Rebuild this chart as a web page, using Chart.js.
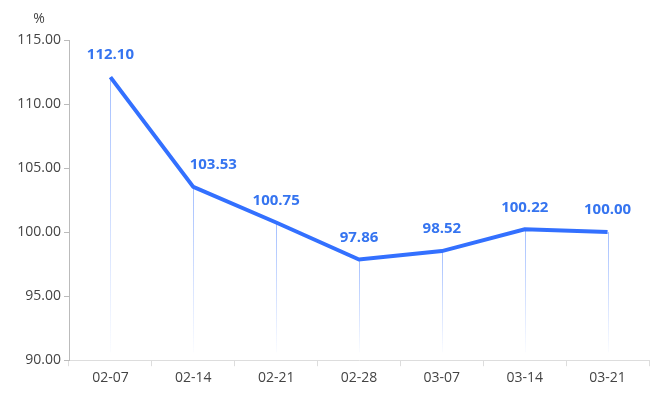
<!DOCTYPE html>
<html>
<head>
<meta charset="utf-8">
<script src="https://cdn.jsdelivr.net/npm/chart.js@4"></script>
<style>
  html, body { margin: 0; padding: 0; background: #fff; }
  #wrap { width: 666px; height: 397px; }
</style>
</head>
<body>
<div id="wrap"><canvas id="line-chart"></canvas></div>
<script>
const categories = ["02-07", "02-14", "02-21", "02-28", "03-07", "03-14", "03-21"];
const values = [112.1, 103.53, 100.75, 97.86, 98.52, 100.22, 100.0];
const yTicks = [90, 95, 100, 105, 110, 115];

const blue = "rgb(51, 112, 255)";
const font = "'Open Sans', 'Noto Sans', sans-serif";

// vertical fading lines under each point + value labels + unit
const extras = {
  id: "extras",
  beforeDatasetsDraw(chart) {
    const ctx = chart.ctx;
    const meta = chart.getDatasetMeta(0);
    const bottom = chart.chartArea.bottom - 8;
    ctx.save();
    meta.data.forEach((pt) => {
      const g = ctx.createLinearGradient(0, pt.y, 0, bottom);
      g.addColorStop(0, "rgba(51, 112, 255, 0.45)");
      g.addColorStop(1, "rgba(51, 112, 255, 0.02)");
      ctx.strokeStyle = g;
      ctx.lineWidth = 1;
      ctx.beginPath();
      ctx.moveTo(Math.round(pt.x) + 0.5, pt.y);
      ctx.lineTo(Math.round(pt.x) + 0.5, bottom);
      ctx.stroke();
    });
    ctx.restore();
  },
  afterDatasetsDraw(chart) {
    const ctx = chart.ctx;
    const meta = chart.getDatasetMeta(0);
    ctx.save();
    ctx.fillStyle = "rgb(53, 116, 240)";
    ctx.font = "bold 15px " + font;
    ctx.textAlign = "center";
    ctx.textBaseline = "middle";
    meta.data.forEach((pt, i) => {
      // second label is nudged right so it clears the steep segment
      const dx = i === 1 ? 20 : 0;
      ctx.fillText(values[i].toFixed(2), pt.x + dx, pt.y - 22);
    });
    ctx.fillStyle = "#444";
    ctx.font = "14px " + font;
    ctx.fillText("%", 39, chart.scales.y.top - 21);
    ctx.restore();
  },
};

new Chart(document.getElementById("line-chart"), {
  type: "line",
  data: {
    labels: categories,
    datasets: [
      {
        data: values,
        borderColor: blue,
        borderWidth: 4,
        pointRadius: 0,
        tension: 0,
        fill: false,
      },
    ],
  },
  options: {
    responsive: true,
    maintainAspectRatio: false,
    animation: false,
    layout: { padding: { top: 40, right: 17, left: 0, bottom: 8 } },
    plugins: {
      legend: { display: false },
      tooltip: { enabled: false },
    },
    scales: {
      x: {
        offset: true,
        grid: { offset: true, drawOnChartArea: false, tickLength: 6, color: "#ddd" },
        border: { color: "#ddd" },
        ticks: { color: "#444", font: { family: font, size: 14 }, padding: 3 },
      },
      y: {
        min: 90,
        max: 115,
        afterBuildTicks(scale) {
          scale.ticks = yTicks.map((v) => ({ value: v }));
        },
        afterFit(scale) {
          scale.width = 69;
        },
        grid: { drawOnChartArea: false, tickLength: 5, color: "#bbb" },
        border: { color: "#bbb" },
        ticks: {
          color: "#444",
          font: { family: font, size: 14 },
          padding: 3,
          callback: (v) => Number(v).toFixed(2),
        },
      },
    },
  },
  plugins: [extras],
});
</script>
</body>
</html>
